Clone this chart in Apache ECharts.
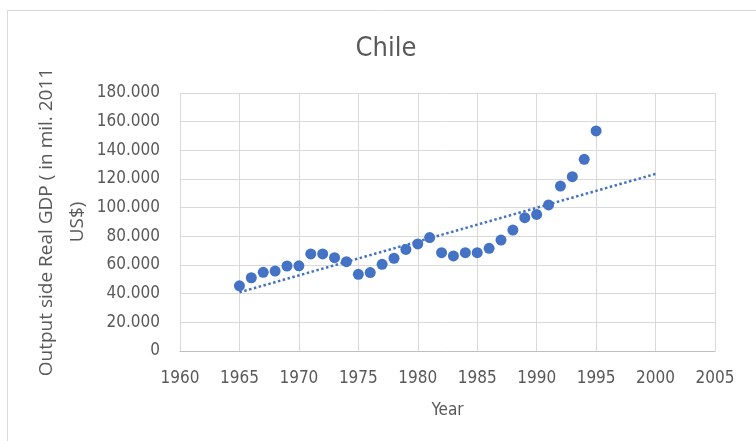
<!DOCTYPE html>
<html>
<head>
<meta charset="utf-8">
<script src="https://cdn.jsdelivr.net/npm/echarts@6/dist/echarts.min.js"></script>
<style>
html,body{margin:0;padding:0;background:#fff;}
#chart{width:756px;height:441px;}
</style>
</head>
<body>
<div id="chart"></div>
<script>
// Data
var years = [1965,1966,1967,1968,1969,1970,1971,1972,1973,1974,1975,1976,1977,1978,1979,1980,1981,1982,1983,1984,1985,1986,1987,1988,1989,1990,1991,1992,1993,1994,1995];
var gdp = [45500,51100,54900,55800,59300,59400,67700,67700,65100,62300,53500,54700,60500,64700,70900,74700,79100,68600,66300,68600,68600,71600,77400,84400,93000,95300,101900,115100,121600,133700,153500];
var xTicks = {min:1960, max:2005, interval:5};
var yTicks = {min:0, max:180000, interval:20000};
var trendRange = [1965, 2000];

// Linear least-squares trendline (as Excel's linear trendline)
var n = years.length, sx=0, sy=0, sxx=0, sxy=0;
for (var i=0;i<n;i++){sx+=years[i];sy+=gdp[i];sxx+=years[i]*years[i];sxy+=years[i]*gdp[i];}
var slope = (n*sxy - sx*sy)/(n*sxx - sx*sx);
var icpt = (sy - slope*sx)/n;
var trendData = trendRange.map(function(x){return [x, icpt + slope*x];});

var scatterData = years.map(function(y,i){return [y, gdp[i]];});

var txt = '#595959';
var labelFont = "'Liberation Sans Narrow','DejaVu Sans Condensed',sans-serif";
var chart = echarts.init(document.getElementById('chart'), null, {renderer:'canvas'});
chart.setOption({
  animation:false,
  backgroundColor:'#fff',
  title:{
    text:'Chile', left:381, top:30, textAlign:'center',
    textStyle:{color:txt, fontSize:27, fontWeight:'normal', fontFamily:labelFont}
  },
  graphic:[{
    type:'rect', shape:{x:7.5,y:10.5,width:800,height:500},
    style:{fill:'none', stroke:'#d9d9d9', lineWidth:1}, silent:true
  }],
  grid:{left:180, right:41, top:93, bottom:90},
  xAxis:{
    type:'value', min:xTicks.min, max:xTicks.max, interval:xTicks.interval,
    name:'Year', nameLocation:'middle', nameGap:51, nameMoveOverlap:false,
    nameTextStyle:{color:txt, fontSize:17, fontFamily:labelFont},
    axisLine:{show:true, lineStyle:{color:'#bfbfbf', width:1}},
    axisTick:{show:false},
    axisLabel:{color:txt, fontSize:17, fontFamily:labelFont, margin:19,
      formatter:function(v){return String(v);}},
    splitLine:{show:true, lineStyle:{color:'#d9d9d9', width:1}}
  },
  yAxis:{
    type:'value', min:yTicks.min, max:yTicks.max, interval:yTicks.interval,
    name:'Output side Real GDP ( in mil. 2011\nUS$)', nameLocation:'middle', nameGap:87, nameRotate:90, nameMoveOverlap:false,
    nameTextStyle:{color:txt, fontSize:19, fontFamily:"'Open Sans',sans-serif", lineHeight:31, align:'center'},
    axisLine:{show:false},
    axisTick:{show:false},
    axisLabel:{color:txt, fontSize:17, fontFamily:labelFont, margin:20,
      formatter:function(v){return String(v).replace(/\B(?=(\d{3})+(?!\d))/g,'.');}},
    splitLine:{show:true, lineStyle:{color:'#d9d9d9', width:1}}
  },
  series:[
    {
      type:'line', data:trendData, showSymbol:false, symbol:'none', z:3,
      lineStyle:{color:'#4472C4', width:2.5, type:[2.5,2.5], cap:'butt'}
    },
    {
      type:'scatter', data:scatterData, symbol:'circle', symbolSize:11, z:4,
      itemStyle:{color:'#4472C4', opacity:1}
    }
  ]
});
</script>
</body>
</html>
